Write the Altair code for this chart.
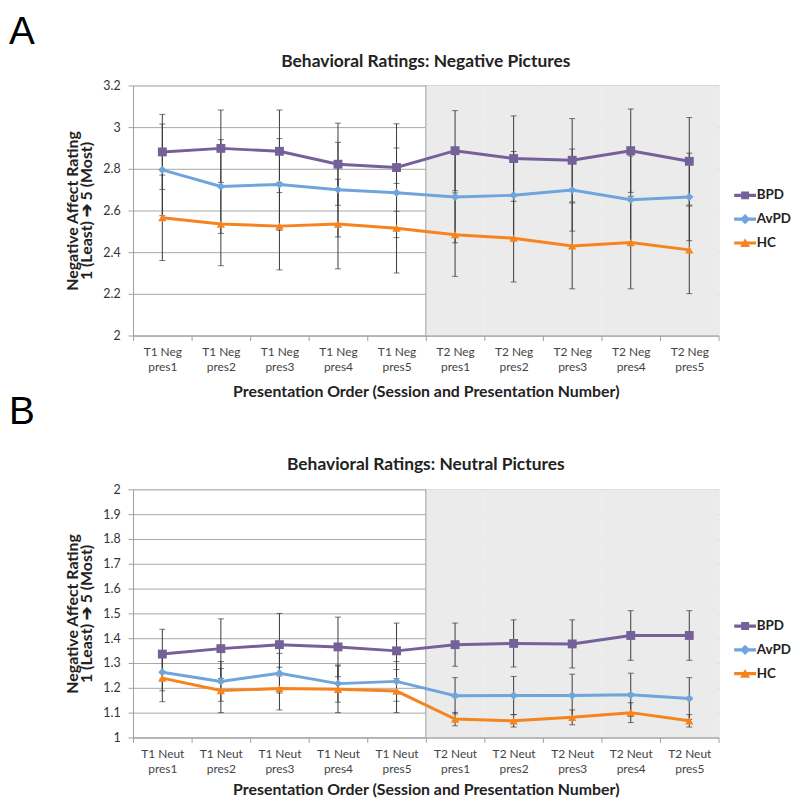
import altair as alt
import pandas as pd

FONT = "Lato"
LETTER_FONT = "Liberation Sans"

groups = ["BPD", "AvPD", "HC"]
colors = ["#75609A", "#6FA5DA", "#F5841F"]

neg_categories = ["T1 Neg\npres1", "T1 Neg\npres2", "T1 Neg\npres3", "T1 Neg\npres4", "T1 Neg\npres5",
                  "T2 Neg\npres1", "T2 Neg\npres2", "T2 Neg\npres3", "T2 Neg\npres4", "T2 Neg\npres5"]
neu_categories = ["T1 Neut\npres1", "T1 Neut\npres2", "T1 Neut\npres3", "T1 Neut\npres4", "T1 Neut\npres5",
                  "T2 Neut\npres1", "T2 Neut\npres2", "T2 Neut\npres3", "T2 Neut\npres4", "T2 Neut\npres5"]

# Panel A: negative pictures (means and error half-widths)
neg_bpd = [2.881, 2.898, 2.884, 2.822, 2.806, 2.887, 2.849, 2.841, 2.887, 2.836]
neg_bpd_err = [0.18, 0.184, 0.198, 0.197, 0.21, 0.192, 0.205, 0.20, 0.20, 0.21]
neg_avpd = [2.795, 2.715, 2.725, 2.700, 2.685, 2.665, 2.673, 2.698, 2.652, 2.665]
neg_avpd_err = [0.22, 0.225, 0.22, 0.227, 0.215, 0.22, 0.21, 0.197, 0.21, 0.21]
neg_hc = [2.565, 2.535, 2.525, 2.535, 2.515, 2.484, 2.467, 2.430, 2.446, 2.411]
neg_hc_err = [0.205, 0.20, 0.21, 0.215, 0.215, 0.20, 0.21, 0.206, 0.222, 0.21]

# Panel B: neutral pictures
neu_bpd = [1.336, 1.358, 1.374, 1.365, 1.349, 1.374, 1.379, 1.377, 1.411, 1.411]
neu_bpd_err = [0.10, 0.12, 0.126, 0.12, 0.112, 0.087, 0.095, 0.097, 0.10, 0.10]
neu_avpd = [1.263, 1.226, 1.259, 1.217, 1.226, 1.168, 1.169, 1.169, 1.172, 1.157]
neu_avpd_err = [0.075, 0.08, 0.08, 0.075, 0.08, 0.073, 0.077, 0.086, 0.087, 0.084]
neu_hc = [1.239, 1.189, 1.197, 1.194, 1.187, 1.074, 1.067, 1.081, 1.100, 1.067]
neu_hc_err = [0.095, 0.089, 0.086, 0.094, 0.087, 0.027, 0.025, 0.03, 0.04, 0.025]

neg_yticks = [2, 2.2, 2.4, 2.6, 2.8, 3, 3.2]
neu_yticks = [1, 1.1, 1.2, 1.3, 1.4, 1.5, 1.6, 1.7, 1.8, 1.9, 2]

marker_shapes = ["square", "diamond", "triangle-up"]
marker_sizes = [80, 70, 70]
legend_shapes = [
    "M-2.75,-0.4H2.75V0.4H-2.75Z M-1,-1H1V1H-1Z",
    "M-2.75,-0.4H2.75V0.4H-2.75Z M0,-1.3L1.3,0L0,1.3L-1.3,0Z",
    "M-2.75,-0.4H2.75V0.4H-2.75Z M0,-1.2L1.25,1L-1.25,1Z",
]

Y_TITLE = ["Negative Affect Rating", "1 (Least) \u2794 5 (Most)"]
X_TITLE = "Presentation Order (Session and Presentation Number)"
W = 590


def build_df(cats, series, errs):
    rows = []
    for g, vals, es in zip(groups, series, errs):
        for c, v, e in zip(cats, vals, es):
            rows.append({"cat": c, "Group": g, "value": v, "lo": v - e, "hi": v + e})
    return pd.DataFrame(rows)


def panel(cats, series, errs, ydom, yticks, title, letter, letter_y, legend_y, x_title_pad, height):
    df = build_df(cats, series, errs)
    xscale = alt.Scale(type="band", domain=cats, paddingInner=0, paddingOuter=0)
    xaxis = alt.Axis(
        labelExpr="split(datum.label, '\\n')", labelAngle=0, labelFont=FONT, labelFontSize=12,
        labelColor="#444444", labelLineHeight=15, labelPadding=6, tickBand="extent", tickSize=5,
        tickColor="#A0A0A0", domainColor="#A0A0A0", grid=False,
        titleFont=FONT, titleFontSize=16, titleFontWeight="bold", titleColor="#222222",
        titlePadding=x_title_pad,
    )
    yscale = alt.Scale(domain=ydom, nice=False, zero=False)
    yaxis = alt.Axis(
        values=yticks, format=".1~f", grid=True, gridColor="#A8A8A8", domainColor="#A0A0A0",
        tickColor="#A0A0A0", tickSize=5, labelPadding=8, labelFont=FONT, labelFontSize=12.5,
        labelColor="#333333", titleFont=FONT, titleFontSize=16, titleFontWeight="bold",
        titleColor="#222222", titlePadding=8, titleLineHeight=15,
    )
    x = alt.X("cat:N", scale=xscale, axis=xaxis, title=X_TITLE)
    x_edge = alt.X("cat:N", scale=xscale, axis=xaxis, title=X_TITLE, bandPosition=0)
    y = alt.Y("value:Q", scale=yscale, axis=yaxis, title=Y_TITLE)
    y_lo = alt.Y("lo:Q", scale=yscale, axis=yaxis, title=Y_TITLE)

    leg = alt.Legend(
        title=None, orient="none", legendX=610, legendY=legend_y, padding=0,
        labelFont=FONT, labelFontSize=13.5, labelFontWeight="bold", labelColor="#222222",
        symbolSize=64, symbolStrokeWidth=0, labelOffset=5, rowPadding=9,
    )
    color = alt.Color("Group:N", scale=alt.Scale(domain=groups, range=colors), legend=leg)
    shape = alt.Shape("Group:N", scale=alt.Scale(domain=groups, range=legend_shapes), legend=leg)

    shade = alt.Chart(pd.DataFrame({"cat": cats[5:]})).mark_rect(color="#EBEBEB").encode(x=x)
    edge = alt.Chart(pd.DataFrame({"cat": cats[5:6]})).mark_rule(color="#A0A0A0", strokeWidth=1).encode(x=x_edge)

    base = alt.Chart(df)
    legend_layer = base.mark_point(filled=True, opacity=0, size=64).encode(x=x, y=y, color=color, shape=shape)
    errbars = base.mark_errorbar(ticks=True, size=6, thickness=1, color="#3A3A3A").encode(
        x=x, y=y_lo, y2="hi:Q")
    lines = base.mark_line(strokeWidth=3).encode(x=x, y=y, color=color)
    pts = []
    for g, shp, sz in zip(groups, marker_shapes, marker_sizes):
        pts.append(base.transform_filter(alt.datum.Group == g).mark_point(
            filled=True, shape=shp, size=sz, opacity=1).encode(x=x, y=y, color=color))

    letter_layer = alt.Chart(pd.DataFrame({"label": [letter]})).mark_text(
        font=LETTER_FONT, fontSize=39, align="left", baseline="top", color="#000000").encode(
        text="label:N", x=alt.value(-125), y=alt.value(letter_y))
    title_layer = alt.Chart(pd.DataFrame({"label": [title]})).mark_text(
        font=FONT, fontSize=17.5, fontWeight="bold", align="center", baseline="middle",
        color="#222222").encode(text="label:N", x=alt.value(W / 2), y=alt.value(-24))

    return alt.layer(shade, edge, legend_layer, errbars, lines, *pts, letter_layer, title_layer).properties(
        width=W, height=height,
    )


top = panel(neg_categories, [neg_bpd, neg_avpd, neg_hc], [neg_bpd_err, neg_avpd_err, neg_hc_err],
            [2, 3.2], neg_yticks, "Behavioral Ratings: Negative Pictures", "A", -73, 104, 11, 252)
bottom = panel(neu_categories, [neu_bpd, neu_avpd, neu_hc], [neu_bpd_err, neu_avpd_err, neu_hc_err],
               [1, 2], neu_yticks, "Behavioral Ratings: Neutral Pictures", "B", -97, 131, 7, 250)

chart = alt.vconcat(top, bottom, spacing=-8).resolve_scale(
    x="independent", y="independent", color="independent", shape="independent"
).resolve_legend(color="independent", shape="independent").properties(
    padding={"left": 0, "top": 1, "right": 0, "bottom": 0}
).configure_view(stroke=None).configure(font=FONT)

chart.save("out.html", embed_options={"renderer": "svg", "actions": False})
